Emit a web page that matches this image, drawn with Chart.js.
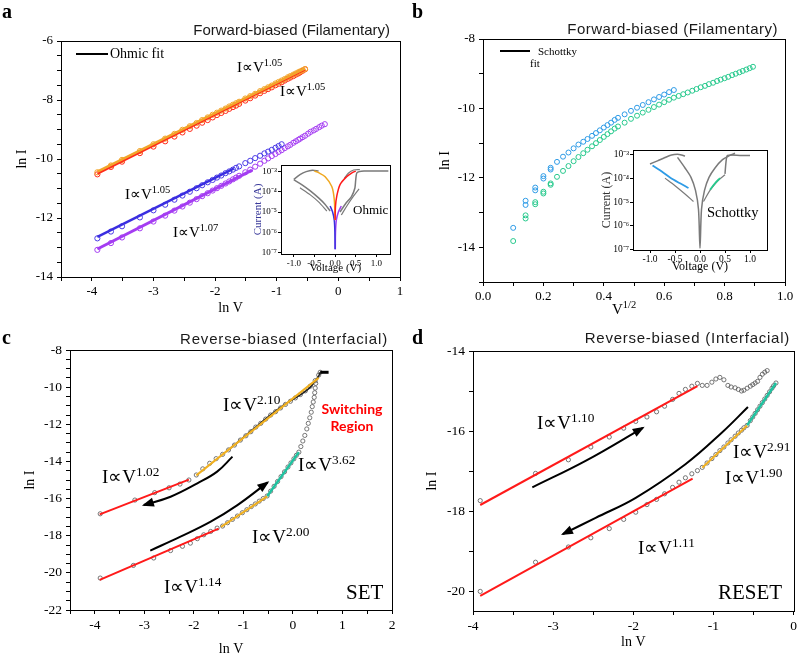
<!DOCTYPE html>
<html>
<head>
<meta charset="utf-8">
<script src="https://cdn.jsdelivr.net/npm/chart.js@4/dist/chart.umd.min.js"></script>
<style>
html, body { margin: 0; padding: 0; background: #fff; }
#page { position: relative; width: 800px; height: 656px; overflow: hidden; }
#page canvas { position: absolute; left: 0; top: 0; }
.t { position: absolute; white-space: nowrap; line-height: 1; color: #000; font-family: "Liberation Serif", "Times New Roman", serif; }
.t sup { font-size: 70%; vertical-align: baseline; position: relative; top: -0.55em; }
.ttl { position: absolute; white-space: nowrap; line-height: 1; color: #1a1a1a; font-family: "Liberation Sans", Arial, sans-serif; font-size: 15px; }
.let { font-weight: bold; font-size: 20px; }
.leg { position: absolute; height: 0; border-top: 2px solid #000; }
.sw { position: absolute; color: #ff0000; font-family: Lato, "Open Sans", sans-serif; font-weight: bold; font-size: 14px; line-height: 17px; text-align: center; width: 80px; }
</style>
</head>
<body>
<div id="page">
  <canvas id="ca" width="800" height="680"></canvas>
  <canvas id="cb" width="800" height="680"></canvas>
  <canvas id="cc" width="800" height="680"></canvas>
  <canvas id="cd" width="800" height="680"></canvas>
  <canvas id="cia" width="800" height="680"></canvas>
  <canvas id="cib" width="800" height="680"></canvas>

  <!-- panel letters and titles -->
  <div class="t let" style="left:2px;top:1px">a</div>
  <div class="t let" style="left:412px;top:1px">b</div>
  <div class="t let" style="left:2px;top:327px">c</div>
  <div class="t let" style="left:412px;top:327px">d</div>
  <div class="ttl" style="right:410px;top:22px">Forward-biased (Filamentary)</div>
  <div class="ttl" style="right:22px;top:21px;letter-spacing:0.5px">Forward-biased (Filamentary)</div>
  <div class="ttl" style="right:412px;top:331px;letter-spacing:0.85px">Reverse-biased (Interfacial)</div>
  <div class="ttl" style="right:10px;top:330px;letter-spacing:0.75px">Reverse-biased (Interfacial)</div>

  <!-- panel a -->
  <div class="leg" style="left:76px;top:53px;width:32px"></div>
  <div class="t" style="left:110px;top:47px;font-size:14px">Ohmic fit</div>
  <div class="t" style="left:237px;top:60px;font-size:15px">I∝V<sup>1.05</sup></div>
  <div class="t" style="left:280px;top:84px;font-size:15px">I∝V<sup>1.05</sup></div>
  <div class="t" style="left:125px;top:187px;font-size:15px">I∝V<sup>1.05</sup></div>
  <div class="t" style="left:173px;top:225px;font-size:15px">I∝V<sup>1.07</sup></div>
  <div class="t" style="left:353px;top:203px;font-size:13px">Ohmic</div>

  <!-- panel b -->
  <div class="leg" style="left:500px;top:50px;width:30px"></div>
  <div class="t" style="left:538px;top:46px;font-size:11px">Schottky</div>
  <div class="t" style="left:530px;top:58px;font-size:11px">fit</div>
  <div class="t" style="left:707px;top:205px;font-size:14.5px">Schottky</div>
  <div class="t" style="left:612px;top:302px;font-size:15px">V<sup>1/2</sup></div>

  <!-- panel c -->
  <div class="t" style="left:223px;top:395px;font-size:19px">I∝V<sup>2.10</sup></div>
  <div class="t" style="left:102px;top:467px;font-size:19px">I∝V<sup>1.02</sup></div>
  <div class="t" style="left:298px;top:455px;font-size:19px">I∝V<sup>3.62</sup></div>
  <div class="t" style="left:252px;top:527px;font-size:19px">I∝V<sup>2.00</sup></div>
  <div class="t" style="left:164px;top:577px;font-size:19px">I∝V<sup>1.14</sup></div>
  <div class="t" style="left:346px;top:582px;font-size:21px">SET</div>
  <div class="sw" style="left:312px;top:400px">Switching<br>Region</div>

  <!-- panel d -->
  <div class="t" style="left:537px;top:413px;font-size:19px">I∝V<sup>1.10</sup></div>
  <div class="t" style="left:638px;top:538px;font-size:19px">I∝V<sup>1.11</sup></div>
  <div class="t" style="left:733px;top:442px;font-size:19px">I∝V<sup>2.91</sup></div>
  <div class="t" style="left:725px;top:468px;font-size:19px">I∝V<sup>1.90</sup></div>
  <div class="t" style="left:718px;top:582px;font-size:21px">RESET</div>
</div>

<script>
// ---------- panel a : ln I vs ln V (forward, filamentary) ----------
const aLnV = [-3.91, -3.69, -3.51, -3.22, -3.00, -2.81, -2.66, -2.53, -2.41, -2.30, -2.21, -2.12, -2.04, -1.97, -1.90,
    -1.83, -1.77, -1.71, -1.66, -1.61, -1.51, -1.43, -1.35, -1.27, -1.20, -1.14, -1.08, -1.02, -0.97, -0.92,
    -0.87, -0.82, -0.78, -0.73, -0.69, -0.65, -0.62, -0.58, -0.54, -0.49, -0.45, -0.40, -0.36, -0.31, -0.27, -0.22];
const aOrange = [-10.45, -10.22, -10.03, -9.73, -9.50, -9.31, -9.15, -9.01, -8.89, -8.78, -8.68, -8.59, -8.50, -8.43, -8.36,
    -8.29, -8.22, -8.16, -8.11, -8.06, -7.95, -7.87, -7.79, -7.70, -7.63, -7.57, -7.51, -7.44, -7.39, -7.34,
    -7.29, -7.23, -7.19, -7.14, -7.10, -7.06, -7.03, -6.99, -6.95];
const aRed = [-10.52, -10.27, -10.09, -9.80, -9.58, -9.40, -9.24, -9.10, -8.98, -8.87, -8.77, -8.68, -8.59, -8.51, -8.44,
    -8.37, -8.30, -8.24, -8.19, -8.13, -8.02, -7.94, -7.85, -7.77, -7.69, -7.63, -7.57, -7.50, -7.45, -7.40,
    -7.34, -7.28, -7.24, -7.19, -7.14, -7.10, -7.06, -7.01, -6.96];
const aBlue = [-12.69, -12.46, -12.28, -11.98, -11.74, -11.55, -11.38, -11.24, -11.11, -10.99, -10.89, -10.79, -10.71, -10.63, -10.56,
    -10.48, -10.42, -10.36, -10.30, -10.25, -10.14, -10.06, -9.97, -9.89, -9.81, -9.75, -9.69, -9.62, -9.56, -9.50];
const aPurple = [-13.08, -12.85, -12.66, -12.35, -12.12, -11.92, -11.75, -11.61, -11.48, -11.36, -11.26, -11.16, -11.07, -10.99, -10.91,
    -10.83, -10.76, -10.69, -10.63, -10.57, -10.45, -10.36, -10.26, -10.16, -10.06, -9.98, -9.90, -9.83, -9.76, -9.70,
    -9.63, -9.57, -9.52, -9.45, -9.40, -9.35, -9.31, -9.26, -9.21, -9.14, -9.08, -9.03, -8.98, -8.92, -8.87, -8.82];
const aOrangeFitLnV = [-3.91, -0.54], aOrangeFitLnI = [-10.43, -6.93];
const aRedFitLnV = [-3.91, -0.54], aRedFitLnI = [-10.50, -6.97];
const aBlueFitLnV = [-3.91, -1.70], aBlueFitLnI = [-12.64, -10.33];
const aPurpleFitLnV = [-3.91, -1.40], aPurpleFitLnI = [-13.05, -10.38];
const aXMajor = [-4, -3, -2, -1, 0, 1];
const aYMajor = [-14, -12, -10, -8, -6];

// inset a : log10 |I| vs V
const iaRedV = [0, 0.01, 0.04, 0.12, 0.28, 0.40, 0.50], iaRedLog = [-5.4, -4.7, -4.22, -3.64, -3.25, -3.07, -2.97];
const iaOrangeV = [-0.50, -0.40, -0.24, -0.08, -0.02, 0], iaOrangeLog = [-2.97, -3.05, -3.25, -3.74, -4.38, -5.4];
const iaBlueV = [0, -0.005, -0.02, -0.06, -0.12], iaBlueLog = [-6.85, -6.0, -5.4, -5.0, -4.7];
const iaPurpleV = [0.005, 0.01, 0.03, 0.08, 0.15], iaPurpleLog = [-6.85, -6.0, -5.4, -5.0, -4.7];
const iaGrayTopLV = [-1.0, -0.85, -0.7, -0.55, -0.4], iaGrayTopLLog = [-3.38, -3.15, -3.0, -2.93, -2.97];
const iaGrayLowLV = [-1.0, -0.8, -0.6, -0.4, -0.25, -0.12], iaGrayLowLLog = [-3.4, -3.65, -3.95, -4.3, -4.6, -4.95];
const iaGrayLowL2V = [-0.85, -0.6, -0.4, -0.2], iaGrayLowL2Log = [-3.8, -4.15, -4.5, -4.95];
const iaGrayRightV = [0.12, 0.25, 0.40, 0.48, 0.50, 0.53, 0.70, 1.0, 1.29], iaGrayRightLog = [-5.0, -4.6, -4.22, -3.81, -3.4, -3.05, -2.97, -2.97, -2.97];
const iaGrayRight2V = [0.15, 0.30, 0.45, 0.58], iaGrayRight2Log = [-5.15, -4.65, -4.2, -3.85];
const iaGrayTopRV = [0.22, 0.32, 0.45, 0.60], iaGrayTopRLog = [-3.35, -3.08, -2.92, -2.90];

// ---------- panel b : ln I vs V^1/2 (Schottky) ----------
const bSqrtV = [0.100, 0.141, 0.173, 0.200, 0.224, 0.245, 0.265, 0.283, 0.300, 0.316, 0.332, 0.346, 0.361, 0.374, 0.387,
    0.400, 0.412, 0.424, 0.436, 0.447, 0.469, 0.490, 0.510, 0.529, 0.548, 0.566, 0.583, 0.600, 0.616, 0.632,
    0.648, 0.663, 0.678, 0.693, 0.707, 0.721, 0.735, 0.748, 0.762, 0.775, 0.787, 0.800, 0.812, 0.825, 0.837,
    0.849, 0.860, 0.872, 0.883, 0.894];
const bBlue = [-13.44, -12.66, -12.28, -11.95, -11.71, -11.54, -11.39, -11.27, -11.15, -11.04, -10.96, -10.88, -10.79, -10.71, -10.63,
    -10.55, -10.48, -10.41, -10.33, -10.27, -10.17, -10.07, -9.98, -9.90, -9.82, -9.74, -9.67, -9.60, -9.53, -9.47];
const bGreen = [-13.82, -13.08, -12.70, -12.40, -12.16, -11.97, -11.80, -11.66, -11.52, -11.40, -11.29, -11.19, -11.09, -11.00, -10.91,
    -10.82, -10.74, -10.66, -10.58, -10.52, -10.41, -10.30, -10.21, -10.12, -10.04, -9.96, -9.89, -9.82, -9.75, -9.69,
    -9.64, -9.59, -9.54, -9.49, -9.44, -9.39, -9.35, -9.30, -9.26, -9.21, -9.17, -9.13, -9.09, -9.04, -9.00,
    -8.96, -8.92, -8.88, -8.84, -8.80];
const bDupSqrtV = [0.141, 0.173, 0.200, 0.224];
const bBlueDup = [-12.78, -12.36, -12.02, -11.76];
const bGreenDup = [-13.17, -12.76, -12.45, -12.20];
const bXMajor = [0, 0.2, 0.4, 0.6, 0.8, 1.0];
const bYMajor = [-14, -12, -10, -8];

// inset b
const ibGrayTopV = [-1.0, -0.85, -0.73, -0.57, -0.45, -0.37, -0.30], ibGrayTopLog = [-3.38, -3.25, -3.14, -3.0, -2.97, -3.0, -3.05];
const ibGrayLrsV = [-0.45, -0.30, -0.18, -0.09, -0.03, 0, 0.03, 0.09, 0.18, 0.30, 0.45, 0.60, 0.70];
const ibGrayLrsLog = [-3.1, -3.55, -3.95, -4.5, -5.3, -6.95, -5.3, -4.5, -3.95, -3.55, -3.2, -3.02, -2.93];
const ibGrayCompV = [0.50, 0.52, 0.55, 0.80, 1.0], ibGrayCompLog = [-3.8, -3.3, -3.02, -3.02, -3.02];
const ibGrayHrsLV = [-0.7, -0.5, -0.3, -0.13], ibGrayHrsLLog = [-3.98, -4.3, -4.65, -4.97];
const ibGrayHrsRV = [0.07, 0.2, 0.35, 0.5], ibGrayHrsRLog = [-4.97, -4.5, -4.1, -3.84];
const ibBlueV = [-0.95, -0.8, -0.6, -0.4, -0.23], ibBlueLog = [-3.45, -3.65, -3.95, -4.2, -4.4];
const ibGreenV = [0.2, 0.3, 0.4], ibGreenLog = [-4.47, -4.2, -3.98];
const insetVMajor = [-1, -0.5, 0, 0.5, 1];
const insetLogMajor = [-7, -6, -5, -4, -3];

// ---------- panel c : SET, reverse-biased ----------
const cUpLnV = [-3.89, -3.19, -2.79, -2.50, -2.28, -2.10, -1.95, -1.82, -1.68, -1.55, -1.42, -1.30, -1.18, -1.06, -0.95,
    -0.85, -0.75, -0.65, -0.55, -0.45, -0.35, -0.25, -0.15, -0.05, 0.05, 0.15, 0.25, 0.35, 0.45, 0.52, 0.55];
const cUpLnI = [-16.82, -16.08, -15.68, -15.42, -15.22, -15.00, -14.73, -14.40, -14.10, -13.85, -13.62, -13.38, -13.12, -12.85, -12.62,
    -12.40, -12.15, -11.95, -11.72, -11.50, -11.32, -11.12, -10.93, -10.76, -10.58, -10.40, -10.20, -9.95, -9.65, -9.35, -9.20];
const cLowLnV = [-3.89, -3.22, -2.81, -2.47, -2.23, -2.07, -1.93, -1.80, -1.66, -1.53, -1.42, -1.32, -1.22, -1.12, -1.02,
    -0.93, -0.84, -0.76, -0.68, -0.60, -0.52, -0.45, -0.38, -0.31, -0.24, -0.17, -0.10, -0.04, 0.02, 0.07, 0.12];
const cLowLnI = [-20.28, -19.60, -19.20, -18.80, -18.57, -18.40, -18.16, -17.95, -17.77, -17.59, -17.48, -17.30, -17.12, -16.94, -16.76,
    -16.60, -16.43, -16.29, -16.14, -16.00, -15.86, -15.60, -15.34, -15.08, -14.82, -14.56, -14.30, -14.08, -13.86, -13.67, -13.50];
const cSwLnV = [0.16, 0.20, 0.24, 0.28, 0.31, 0.34, 0.37, 0.39, 0.41, 0.43, 0.44, 0.45, 0.46];
const cSwLnI = [-13.20, -12.90, -12.60, -12.25, -11.95, -11.65, -11.35, -11.05, -10.80, -10.55, -10.30, -10.05, -9.80];
const cBlackLnV = [-1.30, -0.95, -0.55, -0.15, 0.15, 0.35, 0.52, 0.55];
const cBlackLnI = [-13.38, -12.60, -11.70, -10.90, -10.42, -10.00, -9.40, -9.20];
const cTopLnV = [0.55, 0.72], cTopLnI = [-9.20, -9.20];
const cRedUpFitLnV = [-3.90, -2.10], cRedUpFitLnI = [-16.85, -14.98];
const cOrangeUpFitLnV = [-1.95, 0.52], cOrangeUpFitLnI = [-14.75, -9.50];
const cRedLowFitLnV = [-3.90, -1.50], cRedLowFitLnI = [-20.38, -17.62];
const cOrangeLowFitLnV = [-1.45, -0.52], cOrangeLowFitLnI = [-17.52, -15.88];
const cGreenFitLnV = [-0.52, 0.12], cGreenFitLnI = [-15.88, -13.50];
const cArrowUpLnV = [-1.22, -1.53, -1.93, -2.47, -3.01], cArrowUpLnI = [-13.74, -14.55, -15.18, -15.90, -16.35];
const cArrowLowLnV = [-2.88, -2.27, -1.66, -1.12, -0.51], cArrowLowLnI = [-18.80, -18.05, -17.24, -16.35, -15.13];
const cXMajor = [-4, -3, -2, -1, 0, 1, 2];
const cYMajor = [-22, -20, -18, -16, -14, -12, -10, -8];

// ---------- panel d : RESET, reverse-biased ----------
const dUpLnV = [-3.91, -3.22, -2.81, -2.53, -2.30, -2.12, -1.97, -1.83, -1.71, -1.61, -1.51, -1.43, -1.35, -1.27, -1.20,
    -1.14, -1.08, -1.02, -0.97, -0.92, -0.87, -0.82, -0.78, -0.73, -0.69, -0.65, -0.62, -0.58, -0.54, -0.51,
    -0.48, -0.45, -0.42, -0.39, -0.36, -0.33];
const dUpLnI = [-17.74, -17.06, -16.72, -16.40, -16.15, -15.93, -15.76, -15.65, -15.52, -15.38, -15.21, -15.06, -14.96, -14.88, -14.81,
    -14.86, -14.86, -14.78, -14.70, -14.66, -14.72, -14.86, -14.90, -14.92, -14.96, -15.00, -14.98, -14.93, -14.88, -14.84,
    -14.80, -14.76, -14.66, -14.58, -14.53, -14.49];
const dLowLnV = [-3.91, -3.22, -2.81, -2.53, -2.30, -2.12, -1.97, -1.83, -1.71, -1.61, -1.51, -1.43, -1.35, -1.27, -1.20,
    -1.14, -1.08, -1.02, -0.97, -0.92, -0.87, -0.82, -0.78, -0.73, -0.69, -0.65, -0.62, -0.58, -0.54, -0.51,
    -0.48, -0.45, -0.42, -0.39, -0.36, -0.33, -0.30, -0.27, -0.25, -0.22];
const dLowLnI = [-20.01, -19.28, -18.90, -18.67, -18.44, -18.21, -18.03, -17.84, -17.71, -17.57, -17.41, -17.28, -17.17, -17.07, -16.99,
    -16.91, -16.80, -16.69, -16.59, -16.49, -16.40, -16.30, -16.22, -16.13, -16.05, -15.98, -15.92, -15.86, -15.74, -15.65,
    -15.56, -15.47, -15.38, -15.29, -15.20, -15.11, -15.02, -14.93, -14.87, -14.80];
const dRedUpFitLnV = [-3.91, -1.20], dRedUpFitLnI = [-17.85, -14.88];
const dRedLowFitLnV = [-3.91, -1.26], dRedLowFitLnI = [-20.12, -17.19];
const dOrangeFitLnV = [-1.14, -0.58], dOrangeFitLnI = [-16.92, -15.86];
const dGreenFitLnV = [-0.58, -0.22], dGreenFitLnI = [-15.86, -14.80];
const dArrowUpLnV = [-3.26, -2.59, -1.88], dArrowUpLnI = [-17.41, -16.74, -15.92];
const dArrowLowLnV = [-0.57, -0.89, -1.35, -1.97, -2.47, -2.88], dArrowLowLnI = [-15.40, -16.03, -16.83, -17.67, -18.17, -18.58];
const dXMajor = [-4, -3, -2, -1, 0];
const dYMajor = [-20, -18, -16, -14];

// ---------- helpers ----------
const W = 800, H = 680;
const SERIF = '"Liberation Serif", "Times New Roman", serif';
Chart.defaults.font.family = SERIF;
Chart.defaults.color = '#000';
Chart.defaults.animation = false;
Chart.defaults.events = [];
Chart.defaults.plugins.legend.display = false;
Chart.defaults.plugins.tooltip.enabled = false;

const SUP = { '-': '\u207B', '0': '\u2070', '1': '\u00B9', '2': '\u00B2', '3': '\u00B3', '4': '\u2074',
    '5': '\u2075', '6': '\u2076', '7': '\u2077', '8': '\u2078', '9': '\u2079' };
const pow10 = v => '10' + String(v).split('').map(c => SUP[c] || c).join('');

// box around the plot area, optional white fill for the insets
const framePlugin = {
    id: 'frame',
    beforeDraw(chart, args, opts) {
        if (!opts || !opts.fill) return;
        const a = chart.chartArea, ctx = chart.ctx;
        ctx.save();
        ctx.fillStyle = opts.fill;
        ctx.fillRect(a.left, a.top, a.right - a.left, a.bottom - a.top);
        ctx.restore();
    },
    afterDraw(chart) {
        const a = chart.chartArea, ctx = chart.ctx;
        ctx.save();
        ctx.strokeStyle = '#000';
        ctx.lineWidth = 1;
        const l = Math.round(a.left) + 0.5, t = Math.round(a.top) + 0.5;
        ctx.strokeRect(l, t, Math.round(a.right) - Math.round(a.left), Math.round(a.bottom) - Math.round(a.top));
        ctx.restore();
    }
};

// filled triangle at the last point of datasets flagged with arrowHead
const arrowPlugin = {
    id: 'arrowHeads',
    afterDatasetsDraw(chart) {
        const ctx = chart.ctx;
        chart.data.datasets.forEach((ds, i) => {
            if (!ds.arrowHead) return;
            const pts = chart.getDatasetMeta(i).data;
            const p = pts[pts.length - 2], q = pts[pts.length - 1];
            const ang = Math.atan2(q.y - p.y, q.x - p.x);
            const len = 10, half = 4.5;
            ctx.save();
            ctx.translate(q.x, q.y);
            ctx.rotate(ang);
            ctx.fillStyle = ds.borderColor;
            ctx.beginPath();
            ctx.moveTo(2, 0);
            ctx.lineTo(-len, -half);
            ctx.lineTo(-len, half);
            ctx.closePath();
            ctx.fill();
            ctx.restore();
        });
    }
};
Chart.register(framePlugin, arrowPlugin);

function pts(xs, ys) {
    return ys.map((y, i) => ({ x: xs[i], y: y }));
}

function dots(xs, ys, color, r, bw) {
    return { data: pts(xs, ys), showLine: false, pointStyle: 'circle', pointRadius: r,
        borderColor: color, backgroundColor: 'rgba(0,0,0,0)', borderWidth: bw || 1 };
}

function line(xs, ys, color, w, extra) {
    return Object.assign({ data: pts(xs, ys), showLine: true, pointRadius: 0, borderColor: color,
        backgroundColor: color, borderWidth: w, tension: 0 }, extra || {});
}

function axis(min, max, first, step, majors, fmt, size, tickLen) {
    return {
        type: 'linear', min: min, max: max,
        afterBuildTicks: function (s) {
            const list = [];
            for (let v = first; v <= max + 1e-9; v += step) list.push({ value: Math.round(v * 1000) / 1000 });
            s.ticks = list;
        },
        ticks: {
            autoSkip: false, maxRotation: 0, color: '#000', padding: 3,
            font: { family: SERIF, size: size },
            callback: v => majors.some(m => Math.abs(m - v) < 1e-6) ? fmt(v) : ''
        },
        grid: { drawOnChartArea: false, drawTicks: true, tickLength: tickLen, color: '#000', lineWidth: 1 },
        border: { display: true, color: '#000', width: 1 }
    };
}

function axisTitle(text, size, color) {
    return { display: !!text, text: text, color: color || '#000', padding: 0, font: { family: SERIF, size: size } };
}

// area = wanted plot box in page pixels, yW / xH = fixed axis box sizes
function makeChart(id, area, yW, xH, xAxis, yAxis, datasets, fill) {
    xAxis.afterFit = s => { s.height = xH; };
    yAxis.afterFit = s => { s.width = yW; };
    return new Chart(document.getElementById(id).getContext('2d'), {
        type: 'scatter',
        data: { datasets: datasets },
        options: {
            responsive: false,
            layout: { padding: { left: area.l - yW, top: area.t, right: W - area.r, bottom: H - area.b - xH } },
            scales: { x: xAxis, y: yAxis },
            plugins: { frame: { fill: fill || null } }
        }
    });
}

const str = v => String(v);
const fix1 = v => v.toFixed(1);

// ---------- panel a ----------
(function () {
    const x = axis(-4.5, 1, -4.5, 0.5, aXMajor, str, 13, 4);
    x.title = axisTitle('ln V', 14);
    const y = axis(-14, -6, -14, 0.5, aYMajor, str, 13, 4);
    y.title = axisTitle('ln I', 14);
    y.ticks.padding = 4;
    makeChart('ca', { l: 61, t: 41, r: 400, b: 277 }, 47.4, 39.4, x, y, [
        line(aOrangeFitLnV, aOrangeFitLnI, '#f2a52a', 2.5),
        line(aRedFitLnV, aRedFitLnI, '#ff2a1a', 2),
        line(aBlueFitLnV, aBlueFitLnI, '#3a2ee0', 2.5),
        line(aPurpleFitLnV, aPurpleFitLnI, '#a43cf2', 3),
        dots(aLnV, aOrange, '#f2a52a', 2.6),
        dots(aLnV, aRed, '#ff2a1a', 2.6),
        dots(aLnV, aBlue, '#4a3ae6', 2.6),
        dots(aLnV, aPurple, '#a43cf2', 2.6)
    ]);
})();

// ---------- panel b ----------
(function () {
    const x = axis(0, 1, 0, 0.1, bXMajor, fix1, 13, 4);
    x.title = axisTitle('', 14);
    const y = axis(-15, -8, -15, 1, bYMajor, str, 13, 4);
    y.title = axisTitle('ln I', 14);
    y.ticks.padding = 4;
    makeChart('cb', { l: 483, t: 39, r: 785, b: 282 }, 46.4, 30, x, y, [
        dots(bSqrtV, bBlue, '#2e9be6', 2.5),
        dots(bDupSqrtV, bBlueDup, '#2e9be6', 2.5),
        dots(bSqrtV, bGreen, '#27c98d', 2.5),
        dots(bDupSqrtV, bGreenDup, '#27c98d', 2.5)
    ]);
})();

// ---------- panel c ----------
(function () {
    const x = axis(-4.5, 2, -4.5, 0.5, cXMajor, str, 13.5, 4);
    x.title = axisTitle('ln V', 14);
    const y = axis(-22, -8, -22, 0.5, cYMajor, str, 13.5, 4);
    y.title = axisTitle('ln I', 14);
    y.ticks.padding = 4;
    makeChart('cc', { l: 70, t: 350, r: 392, b: 610 }, 48.4, 47.4, x, y, [
        line(cArrowUpLnV, cArrowUpLnI, '#000', 2, { tension: 0.4, arrowHead: true }),
        line(cArrowLowLnV, cArrowLowLnI, '#000', 2, { tension: 0.4, arrowHead: true }),
        line(cRedUpFitLnV, cRedUpFitLnI, '#ff1a1a', 2),
        line(cOrangeUpFitLnV, cOrangeUpFitLnI, '#f0b020', 2),
        line(cRedLowFitLnV, cRedLowFitLnI, '#ff1a1a', 2),
        line(cOrangeLowFitLnV, cOrangeLowFitLnI, '#f0b020', 2),
        line(cGreenFitLnV, cGreenFitLnI, '#1fc2a0', 2.5),
        line(cTopLnV, cTopLnI, '#000', 3),
        line(cBlackLnV, cBlackLnI, '#222', 1.5, { tension: 0.3 }),
        dots(cUpLnV, cUpLnI, '#555', 2.1, 0.8),
        dots(cLowLnV, cLowLnI, '#555', 2.1, 0.8),
        dots(cSwLnV, cSwLnI, '#555', 2.1, 0.8)
    ]);
})();

// ---------- panel d ----------
(function () {
    const x = axis(-4, 0, -4, 0.5, dXMajor, str, 13.5, 4);
    x.title = axisTitle('ln V', 14);
    const y = axis(-20.5, -14, -20, 1, dYMajor, str, 13.5, 4);
    y.title = axisTitle('ln I', 14);
    y.ticks.padding = 4;
    makeChart('cd', { l: 473, t: 351, r: 795, b: 611 }, 49.4, 39.4, x, y, [
        line(dArrowUpLnV, dArrowUpLnI, '#000', 2, { tension: 0.4, arrowHead: true }),
        line(dArrowLowLnV, dArrowLowLnI, '#000', 2, { tension: 0.4, arrowHead: true }),
        line(dRedUpFitLnV, dRedUpFitLnI, '#ff1a1a', 2),
        line(dRedLowFitLnV, dRedLowFitLnI, '#ff1a1a', 2),
        line(dOrangeFitLnV, dOrangeFitLnI, '#f0b020', 2),
        line(dGreenFitLnV, dGreenFitLnI, '#1fc2a0', 2.5),
        dots(dUpLnV, dUpLnI, '#555', 2.1, 0.8),
        dots(dLowLnV, dLowLnI, '#555', 2.1, 0.8)
    ]);
})();

// ---------- inset a ----------
(function () {
    const x = axis(-1.31, 1.33, -1, 0.5, insetVMajor, fix1, 9, 3);
    x.title = axisTitle('Voltage (V)', 11);
    x.ticks.padding = 1;
    const y = axis(-7.08, -2.67, -7, 1, insetLogMajor, pow10, 9, 3);
    y.title = axisTitle('Current (A)', 11, '#3a3a9a');
    y.ticks.padding = 1;
    const g = '#7a7a7a';
    makeChart('cia', { l: 281, t: 165, r: 390, b: 254 }, 29.6, 20.6, x, y, [
        line(iaRedV, iaRedLog, '#ff1a1a', 1.5, { tension: 0.3 }),
        line(iaOrangeV, iaOrangeLog, '#f0a820', 1.5, { tension: 0.3 }),
        line(iaBlueV, iaBlueLog, '#3a30e0', 1.5, { tension: 0.3 }),
        line(iaPurpleV, iaPurpleLog, '#a040f0', 1.5, { tension: 0.3 }),
        line(iaGrayTopLV, iaGrayTopLLog, g, 1.5, { tension: 0.3 }),
        line(iaGrayLowLV, iaGrayLowLLog, g, 1.5, { tension: 0.3 }),
        line(iaGrayLowL2V, iaGrayLowL2Log, g, 1.2, { tension: 0.3 }),
        line(iaGrayRightV, iaGrayRightLog, g, 1.5, { tension: 0.2 }),
        line(iaGrayRight2V, iaGrayRight2Log, g, 1.2, { tension: 0.3 }),
        line(iaGrayTopRV, iaGrayTopRLog, g, 1.2, { tension: 0.3 })
    ], '#fff');
})();

// ---------- inset b ----------
(function () {
    const x = axis(-1.34, 1.34, -1, 0.5, insetVMajor, fix1, 9.5, 3);
    x.title = axisTitle('Voltage (V)', 12);
    x.ticks.padding = 1;
    const y = axis(-7.02, -2.79, -7, 1, insetLogMajor, pow10, 9.5, 3);
    y.title = axisTitle('Current (A)', 12, '#333');
    y.ticks.padding = 1;
    const g = '#7a7a7a';
    makeChart('cib', { l: 633, t: 150, r: 767, b: 250 }, 33, 23.6, x, y, [
        line(ibBlueV, ibBlueLog, '#2e9be6', 1.8, { tension: 0.3 }),
        line(ibGreenV, ibGreenLog, '#27c98d', 1.8, { tension: 0.3 }),
        line(ibGrayTopV, ibGrayTopLog, g, 1.5, { tension: 0.3 }),
        line(ibGrayLrsV, ibGrayLrsLog, g, 1.5, { tension: 0.3 }),
        line(ibGrayCompV, ibGrayCompLog, g, 1.5, { tension: 0.2 }),
        line(ibGrayHrsLV, ibGrayHrsLLog, g, 1.2, { tension: 0.3 }),
        line(ibGrayHrsRV, ibGrayHrsRLog, g, 1.2, { tension: 0.3 })
    ], '#fff');
})();
</script>
</body>
</html>
